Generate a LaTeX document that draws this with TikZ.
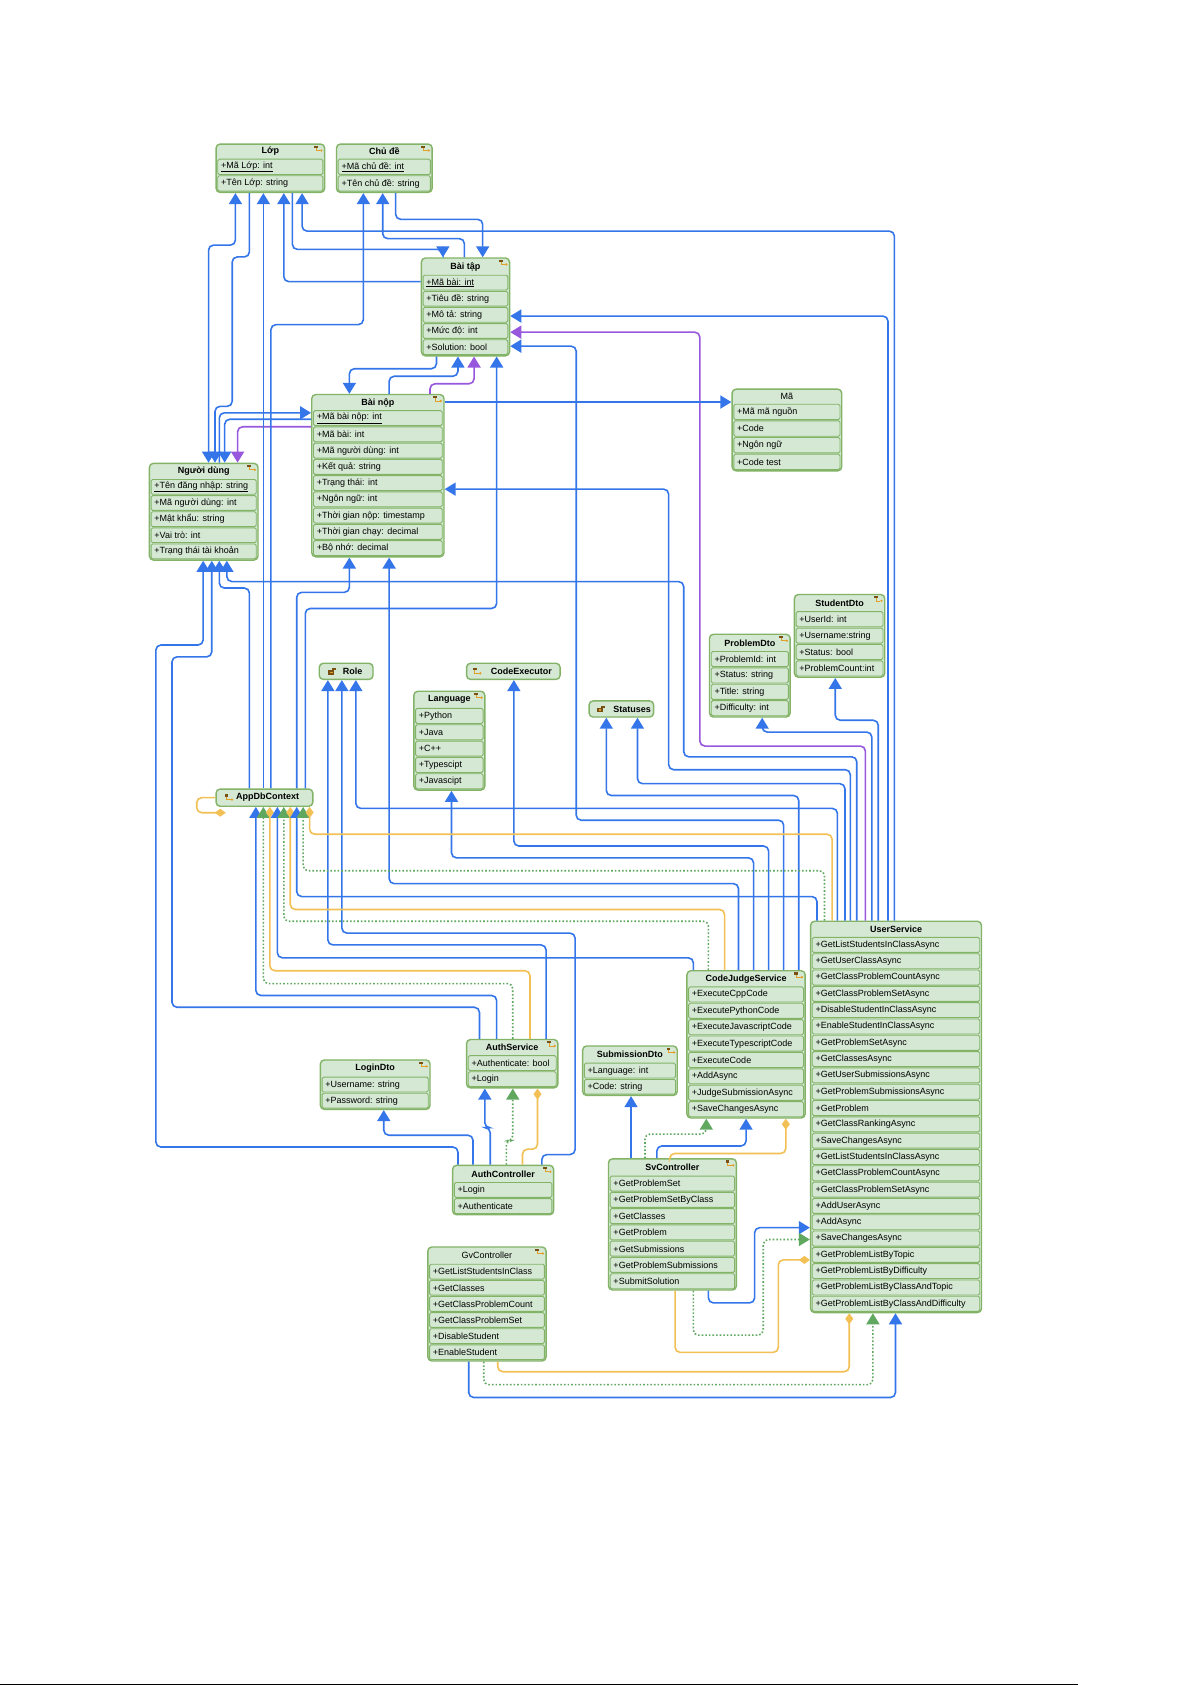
\documentclass[tikz,border=0pt]{standalone}
\usepackage{fontspec}
\setmainfont{Liberation Sans}
\usetikzlibrary{arrows.meta,fit}

\definecolor{clsgreen}{RGB}{130,179,102}
\definecolor{clsfill}{RGB}{213,232,212}
\definecolor{linkblue}{RGB}{52,118,234}
\definecolor{linkpurple}{RGB}{152,88,222}
\definecolor{linkgreen}{RGB}{96,168,96}
\definecolor{linkyellow}{RGB}{242,192,84}
\definecolor{icobrown}{RGB}{120,80,20}
\definecolor{icoorange}{RGB}{226,160,40}

\tikzset{
	clsbox/.style={draw=clsgreen, fill=clsfill, line width=1.4pt, rounded corners=4pt, inner sep=0pt},
	clsrow/.style={draw=clsgreen, fill=clsfill, line width=0.9pt, rounded corners=1.5pt},
	clstitle/.style={font=\fontsize{9}{10}\selectfont\bfseries, inner sep=0pt},
	clstext/.style={font=\fontsize{9}{10}\selectfont, inner sep=0pt, anchor=west},
	link/.style={draw=linkblue, line width=1.6pt, rounded corners=5pt, ->},
	purplelink/.style={link, draw=linkpurple},
	reallink/.style={link, draw=linkgreen, dotted},
	ownlink/.style={draw=linkyellow, line width=1.6pt, rounded corners=5pt, -{Diamond[width=8pt,length=11pt]}},
}

% class box: name, left, top, right, bottom, header height, title, rows
\newcommand\umlclass[8]{%
	\node[clsbox, fit={(#2,#3) (#4,#5)}] (#1) {};
	\node[clstitle] (#1-t) at ({(#2+#4)/2},{#3+#6/2}) {#7};
	\foreach \rt [count=\ri] in {#8} {\xdef\nrows{\ri}}
	\pgfmathsetmacro\rowh{(#5-#3-#6)/\nrows}
	\foreach \rt [count=\ri] in {#8} {
		\draw[clsrow] ({#2+1.6},{#3+#6+(\ri-1)*\rowh}) rectangle ({#4-1.6},{#3+#6+\ri*\rowh-1.2});
		\node[clstext] (#1-\ri) at ({#2+4.5},{#3+#6+(\ri-0.5)*\rowh-0.5}) {\rt};
	}
}
% one line box: name, left, top, right, bottom, text x, title
\newcommand\umlsingle[7]{%
	\node[clsbox, fit={(#2,#3) (#4,#5)}] (#1) {};
	\node[clstitle] (#1-t) at (#6,{(#3+#5)/2}) {#7};
}
\newcommand\cornericon[2]{%
	\fill[icobrown] (#1-10,#2+1.5) rectangle (#1-6.5,#2+3.5);
	\draw[icoorange, line width=0.8pt] (#1-8,#2+3.5) |- (#1-4,#2+6);
	\fill[icoorange] (#1-3,#2+6) circle (1.3pt);
}
\newcommand\enumicon[2]{%
	\fill[icobrown] (#1-4,#2-1) rectangle (#1+2,#2+3);
	\fill[icoorange] (#1-2,#2+0.3) rectangle (#1+0.5,#2+1.8);
	\fill[icobrown] (#1,#2-3) rectangle (#1+4,#2-1);
}
\newcommand\dbicon[2]{%
	\fill[icobrown] (#1-4,#2-3) rectangle (#1-0.5,#2-1);
	\draw[icoorange, line width=0.8pt] (#1-2.5,#2-1) |- (#1+2,#2+1.8);
	\fill[icoorange] (#1+2.8,#2+1.8) circle (1.3pt);
}

\begin{document}
\begin{tikzpicture}[x=1.075pt, y=-1.075pt, >={Triangle[width=13pt,length=11pt]}]

	\useasboundingbox (0,0) rectangle (1108.84,1567.44);
	\fill[white] (0,0) rectangle (1108.84,1567.44);
	\draw[line width=0.8pt] (0,1566.4) -- (1003,1566.4);

	% entities
	\umlclass{lop}{201}{134}{302}{179}{14}{Lớp}{\underline{+Mã Lớp: int},+Tên Lớp: string}
	\umlclass{chude}{313}{134}{402}{179}{14}{Chủ đề}{\underline{+Mã chủ đề: int},+Tên chủ đề: string}
	\umlclass{baitap}{392}{240}{474}{331}{16}{Bài tập}{\underline{+Mã bài: int},+Tiêu đề: string,+Mô tả: string,+Mức độ: int,+Solution: bool}
	\umlclass{bainop}{290}{367}{413}{518}{15}{Bài nộp}{\underline{+Mã bài nộp: int},+Mã bài: int,+Mã người dùng: int,+Kết quả: string,+Trạng thái: int,+Ngôn ngữ: int,+Thời gian nộp: timestamp,+Thời gian chạy: decimal,+Bộ nhớ: decimal}
	\umlclass{ma}{681}{362}{783}{438}{14}{\mdseries Mã}{+Mã mã nguồn,+Code,+Ngôn ngữ,+Code test}
	\umlclass{nguoidung}{139}{431}{240}{521}{15}{Người dùng}{\underline{+Tên đăng nhập: string},+Mã người dùng: int,+Mật khẩu: string,+Vai trò: int,+Trạng thái tài khoản}
	\umlclass{studentdto}{739}{553}{823}{630}{16}{StudentDto}{+UserId: int,+Username:string,+Status: bool,+ProblemCount:int}
	\umlclass{problemdto}{660}{590}{735}{667}{16}{ProblemDto}{+ProblemId: int,+Status: string,+Title: string,+Difficulty: int}
	\umlclass{language}{385}{643}{451}{735}{16}{Language}{+Python,+Java,+C++,+Typescipt,+Javascipt}

	\umlsingle{role}{297}{617}{347}{632}{328}{Role}
	\umlsingle{codeexec}{434}{617}{521}{632}{485}{CodeExecutor}
	\umlsingle{statuses}{548}{652}{608}{667}{588}{Statuses}
	\umlsingle{appdb}{201}{734}{291}{750}{249}{AppDbContext}

	% services and controllers
	\umlclass{usersvc}{754}{857}{913}{1221}{15}{UserService}{+GetListStudentsInClassAsync,+GetUserClassAsync,+GetClassProblemCountAsync,+GetClassProblemSetAsync,+DisableStudentInClassAsync,+EnableStudentInClassAsync,+GetProblemSetAsync,+GetClassesAsync,+GetUserSubmissionsAsync,+GetProblemSubmissionsAsync,+GetProblem,+GetClassRankingAsync,+SaveChangesAsync,+GetListStudentsInClassAsync,+GetClassProblemCountAsync,+GetClassProblemSetAsync,+AddUserAsync,+AddAsync,+SaveChangesAsync,+GetProblemListByTopic,+GetProblemListByDifficulty,+GetProblemListByClassAndTopic,+GetProblemListByClassAndDifficulty}
	\umlclass{codejudge}{639}{903}{749}{1040}{15}{CodeJudgeService}{+ExecuteCppCode,+ExecutePythonCode,+ExecuteJavascriptCode,+ExecuteTypescriptCode,+ExecuteCode,+AddAsync,+JudgeSubmissionAsync,+SaveChangesAsync}
	\umlclass{authsvc}{434}{967}{519}{1012}{15}{AuthService}{+Authenticate: bool,+Login}
	\umlclass{logindto}{298}{986}{400}{1032}{16}{LoginDto}{+Username: string,+Password: string}
	\umlclass{subdto}{542}{973}{630}{1019}{16}{SubmissionDto}{+Language: int,+Code: string}
	\umlclass{authctl}{421}{1084}{515}{1130}{16}{AuthController}{+Login,+Authenticate}
	\umlclass{svctl}{566}{1078}{685}{1200}{16}{SvController}{+GetProblemSet,+GetProblemSetByClass,+GetClasses,+GetProblem,+GetSubmissions,+GetProblemSubmissions,+SubmitSolution}
	\umlclass{gvctl}{398}{1160}{508}{1266}{16}{\mdseries GvController}{+GetListStudentsInClass,+GetClasses,+GetClassProblemCount,+GetClassProblemSet,+DisableStudent,+EnableStudent}

	\foreach \bx/\by in {302/134,402/134,474/240,413/367,240/431,823/553,735/590,451/643,749/903,519/967,400/986,630/973,515/1084,685/1078,508/1160}
		\cornericon{\bx}{\by};
	\enumicon{309}{624.5}
	\enumicon{559}{659.5}
	\dbicon{444}{624.5}
	\dbicon{213}{742}

	% links between the entities
	\draw[link,<->] (nguoidung.north -| 194,0) |- (219,228) -- (lop.south -| 219,0);
	\draw[link] (lop.south -| 232,0) |- (216,239) |- (200,378) -- (nguoidung.north -| 200,0);
	\draw[link] (nguoidung.north -| 204,0) |- (bainop.west |- 0,384);
	\draw[link] (bainop.west |- 0,390) -| (nguoidung.north -| 209,0);
	\draw[purplelink] (bainop.west |- 0,397) -| (nguoidung.north -| 221,0);
	\draw[link] (appdb.north -| 245,0) -- (lop.south -| 245,0);
	\draw[link] (appdb.north -| 252,0) |- (338,302) -- (chude.south -| 338,0);
	\draw[link] (baitap.west |- 0,262) -| (lop.south -| 264,0);
	\draw[link] (lop.south -| 272,0) |- (412,232) -- (baitap.north -| 412,0);
	\draw[link] (usersvc.north -| 832,0) |- (281,215) -- (lop.south -| 281,0);
	\draw[link] (baitap.north -| 432,0) |- (356,222) -- (chude.south -| 356,0);
	\draw[link] (chude.south -| 368,0) |- (449,204) -- (baitap.north -| 449,0);
	\draw[link] (usersvc.north -| 826,0) |- (baitap.east |- 0,294);
	\draw[purplelink] (usersvc.north -| 805,0) |- (651,694) |- (baitap.east |- 0,309);
	\draw[link] (codejudge.north -| 729,0) |- (536,763) |- (baitap.east |- 0,322);
	\draw[link] (appdb.north -| 284,0) |- (462,566) -- (baitap.south -| 462,0);
	\draw[link] (baitap.south -| 406,0) |- (325,343) -- (bainop.north -| 325,0);
	\draw[link] (bainop.north -| 362,0) |- (426,350) -- (baitap.south -| 426,0);
	\draw[purplelink] (bainop.north -| 400,0) |- (441,357) -- (baitap.south -| 441,0);
	\draw[link] (bainop.east |- 0,374) -- (ma.west |- 0,374);
	\draw[link] (usersvc.north -| 791,0) |- (622,716) |- (bainop.east |- 0,455);
	\draw[link] (appdb.north -| 276,0) |- (325,551) -- (bainop.south -| 325,0);
	\draw[link] (codejudge.north -| 687,0) |- (362,822) -- (bainop.south -| 362,0);
	\draw[link] (appdb.north -| 232,0) |- (204,547) -- (nguoidung.south -| 204,0);
	\draw[link] (usersvc.north -| 797,0) |- (636,704) |- (211,541) -- (nguoidung.south -| 211,0);
	\draw[link] (authctl.north -| 426,0) |- (145,1067) |- (189,600) -- (nguoidung.south -| 189,0);
	\draw[link] (authsvc.north -| 446,0) |- (160,937) |- (197,611) -- (nguoidung.south -| 197,0);

	% enums and helpers
	\draw[link] (authsvc.north -| 508,0) |- (305,879) -- (role.south -| 305,0);
	\draw[link] (authctl.north -| 504,0) |- (535,1074) |- (318,868) -- (role.south -| 318,0);
	\draw[link] (usersvc.north -| 779,0) |- (331,752) -- (role.south -| 331,0);
	\draw[link] (codejudge.north -| 701,0) |- (420,798) -- (language.south -| 420,0);
	\draw[link] (codejudge.north -| 715,0) |- (478,787) -- (codeexec.south -| 478,0);
	\draw[link] (codejudge.north -| 743,0) |- (564,740) -- (statuses.south -| 564,0);
	\draw[link] (usersvc.north -| 786,0) |- (593,729) -- (statuses.south -| 593,0);
	\draw[link] (usersvc.north -| 811,0) |- (709,681) -- (problemdto.south -| 709,0);
	\draw[link] (usersvc.north -| 817,0) |- (777,670) -- (studentdto.south -| 777,0);

	% AppDbContext
	\draw[link] (authsvc.north -| 462,0) |- (238,926) -- (appdb.south -| 238,0);
	\draw[reallink] (authsvc.north -| 477,0) |- (245,915) -- (appdb.south -| 245,0);
	\draw[ownlink] (authsvc.north -| 493,0) |- (251,903) -- (appdb.south -| 251,0);
	\draw[link] (codejudge.north -| 645,0) |- (258,891) -- (appdb.south -| 258,0);
	\draw[reallink] (codejudge.north -| 659,0) |- (264,857) -- (appdb.south -| 264,0);
	\draw[ownlink] (codejudge.north -| 674,0) |- (270,846) -- (appdb.south -| 270,0);
	\draw[link] (usersvc.north -| 760,0) |- (276,834) -- (appdb.south -| 276,0);
	\draw[reallink] (usersvc.north -| 767,0) |- (282,810) -- (appdb.south -| 282,0);
	\draw[ownlink] (usersvc.north -| 774,0) |- (288,776) -- (appdb.south -| 288,0);
	\coordinate (appdb-loop) at (210,756);
	\draw[ownlink] (appdb.west |- 0,742) -| (183,756) -- (appdb-loop);

	% controllers
	\draw[link] (svctl.north -| 587,0) -- (subdto.south -| 587,0);
	\draw[reallink] (svctl.north -| 600,0) |- (657,1055) -- (codejudge.south -| 657,0);
	\draw[link] (svctl.north -| 611,0) |- (694,1066) -- (codejudge.south -| 694,0);
	\draw[ownlink] (svctl.north -| 623,0) |- (731,1073) -- (codejudge.south -| 731,0);
	\draw[link] (svctl.south -| 659,0) |- (702,1212) |- (usersvc.west |- 0,1142);
	\draw[reallink] (svctl.south -| 645,0) |- (710,1242) |- (usersvc.west |- 0,1153);
	\draw[ownlink] (svctl.south -| 628,0) |- (724,1258) |- (usersvc.west |- 0,1172);
	\draw[link] (gvctl.south -| 436,0) |- (833,1300) -- (usersvc.south -| 833,0);
	\draw[reallink] (gvctl.south -| 450,0) |- (812,1288) -- (usersvc.south -| 812,0);
	\draw[ownlink] (gvctl.south -| 463,0) |- (790,1276) -- (usersvc.south -| 790,0);
	\draw[link] (authctl.north -| 440,0) |- (357,1056) -- (logindto.south -| 357,0);
	\draw[link] (authctl.north -| 456,0) |- (451,1049) -- (authsvc.south -| 451,0);
	\draw[reallink] (authctl.north -| 471,0) |- (477,1061) -- (authsvc.south -| 477,0);
	\draw[ownlink] (authctl.north -| 486,0) |- (500,1069) -- (authsvc.south -| 500,0);

\end{tikzpicture}
\end{document}
